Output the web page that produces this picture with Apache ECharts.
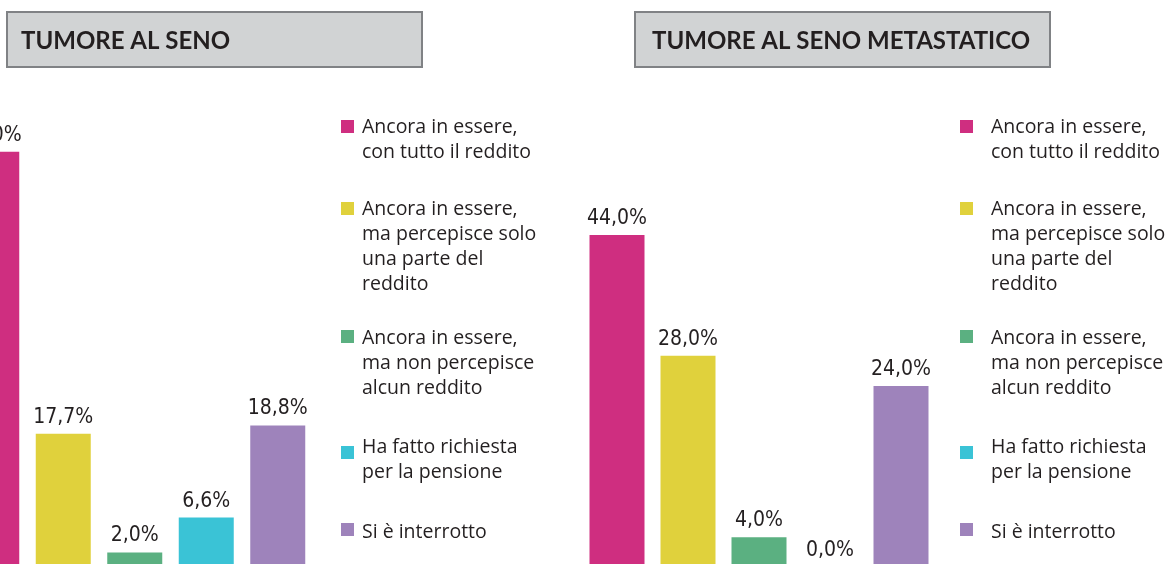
<!DOCTYPE html>
<html>
<head>
<meta charset="utf-8">
<script src="https://cdn.jsdelivr.net/npm/echarts@6/dist/echarts.min.js"></script>
<style>
html, body { margin: 0; padding: 0; background: #fff; }
#chart { width: 1172px; height: 564px; }
</style>
</head>
<body>
<div id="chart"></div>
<script>
// dati
var categorie = [
    'Ancora in essere,\ncon tutto il reddito',
    'Ancora in essere,\nma percepisce solo\nuna parte del\nreddito',
    'Ancora in essere,\nma non percepisce\nalcun reddito',
    'Ha fatto richiesta\nper la pensione',
    'Si è interrotto'
];
var valoriSeno = [55.0, 17.7, 2.0, 6.6, 18.8];
var valoriMetastatico = [44.0, 28.0, 4.0, 0.0, 24.0];
var titoli = ['TUMORE AL SENO', 'TUMORE AL SENO METASTATICO'];

// stile
var colori = ['#cf2e80', '#e0d13c', '#5bb081', '#3ac3d6', '#9e83bb'];
var testo = '#231f20';
var fontNarrow = "'Liberation Sans Narrow', 'DejaVu Sans Condensed', 'Roboto', sans-serif";
var fontLegenda = "'Open Sans', Lato, sans-serif";

var chart = echarts.init(document.getElementById('chart'));

function etichetta(p) {
    return p.value.toFixed(1).replace('.', ',') + '%';
}

function serie(valori, idx) {
    return {
        type: 'bar',
        xAxisIndex: idx,
        yAxisIndex: idx,
        barWidth: 55,
        data: valori.map(function (v, i) {
            return { value: v, itemStyle: { color: colori[i] } };
        }),
        label: {
            show: true,
            position: 'top',
            distance: 6,
            formatter: etichetta,
            color: testo,
            fontFamily: fontNarrow,
            fontSize: 21
        },
        silent: true
    };
}

// legenda disegnata a mano: quadratino sulla prima riga del testo
var legendaQuadrati = [120, 202, 330, 446, 523];
var legendaTesto = [128, 210, 339, 448, 533];
function legenda(xq, xt) {
    var el = [];
    categorie.forEach(function (c, i) {
        el.push({
            type: 'rect',
            shape: { x: xq, y: legendaQuadrati[i], width: 13, height: 13 },
            style: { fill: colori[i] }
        });
        el.push({
            type: 'text',
            x: xt,
            y: legendaTesto[i] - 12.5,
            style: {
                text: c,
                fill: testo,
                font: '19.5px ' + fontLegenda,
                lineHeight: 24.8,
                verticalAlign: 'top'
            }
        });
    });
    return el;
}

function riquadro(x, w) {
    return {
        type: 'rect',
        z: 0,
        shape: { x: x, y: 12, width: w, height: 55 },
        style: { fill: '#d1d3d4', stroke: '#808285', lineWidth: 2 }
    };
}

var option = {
    backgroundColor: '#fff',
    animation: false,
    title: [
        { text: titoli[0], left: 21, top: 29 },
        { text: titoli[1], left: 652, top: 29 }
    ].map(function (t) {
        t.textStyle = { fontFamily: "Lato, 'Open Sans', sans-serif", fontWeight: 'bold', fontSize: 24, color: testo };
        t.padding = 0;
        t.z = 10;
        return t;
    }),
    grid: [
        { left: -44, width: 357.5, top: 114, bottom: -3.5, outerBoundsMode: 'none' },
        { left: 581.5, width: 355, top: 114, bottom: -3.5, outerBoundsMode: 'none' }
    ],
    xAxis: [0, 1].map(function (i) {
        return {
            type: 'category', gridIndex: i, data: categorie,
            axisLine: { show: false }, axisTick: { show: false }, axisLabel: { show: false }
        };
    }),
    yAxis: [0, 1].map(function (i) {
        return {
            type: 'value', gridIndex: i, min: 0, max: 60,
            axisLine: { show: false }, axisTick: { show: false }, axisLabel: { show: false },
            splitLine: { show: false }
        };
    }),
    series: [serie(valoriSeno, 0), serie(valoriMetastatico, 1)],
    graphic: [riquadro(7, 415), riquadro(635, 415)]
        .concat(legenda(341, 362))
        .concat(legenda(960, 991))
};

chart.setOption(option);
</script>
</body>
</html>
